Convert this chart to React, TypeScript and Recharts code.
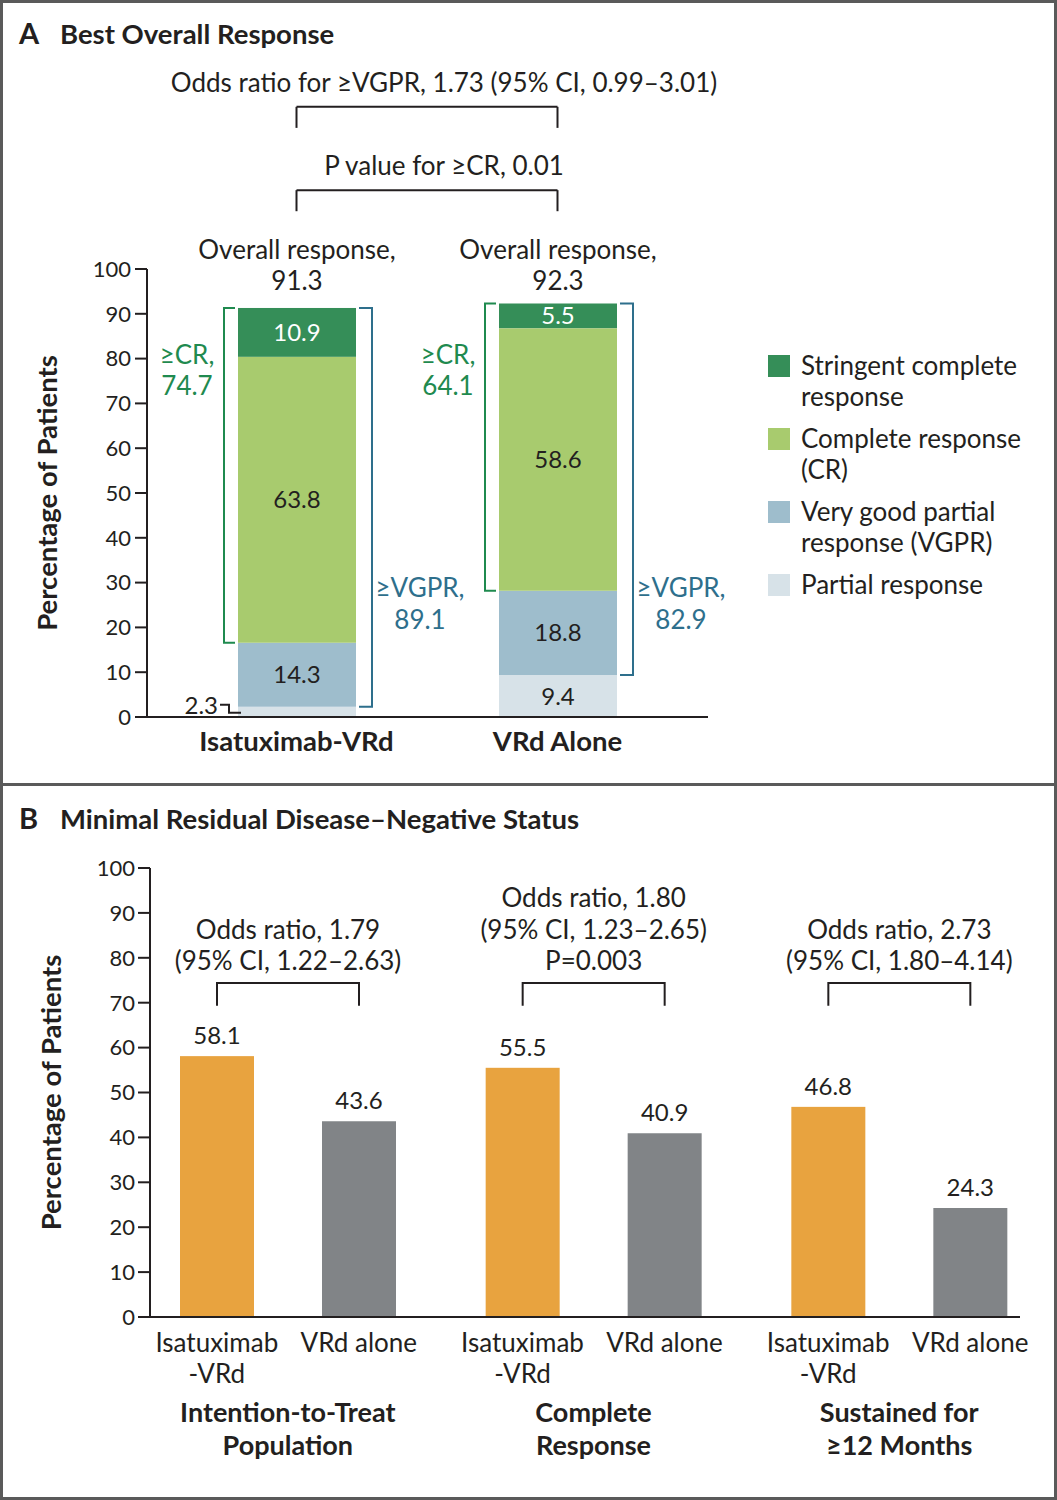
import React from "react";
import { BarChart, Bar, XAxis, YAxis, LabelList, Legend, ReferenceLine } from "recharts";

// panel A: best overall response (percent of patients)
const arms = ["Isatuximab-VRd", "VRd Alone"];
const partialResponse = [2.3, 9.4];
const veryGoodPartialResponse = [14.3, 18.8];
const completeResponse = [63.8, 58.6];
const stringentCompleteResponse = [10.9, 5.5];
const overallResponse = [91.3, 92.3];
const atLeastCr = [74.7, 64.1];
const atLeastVgpr = [89.1, 82.9];
const responseNames = [
  "Partial response",
  "Very good partial\nresponse (VGPR)",
  "Complete response\n(CR)",
  "Stringent complete\nresponse",
];
const legendOrder = ["scr", "cr", "vgpr", "pr"];
const oddsRatioVgpr = "Odds ratio for \u2265VGPR, 1.73 (95% CI, 0.99\u20133.01)";
const pValueCr = "P value for \u2265CR, 0.01";

// panel B: MRD-negative status
const mrdGroups = ["Intention-to-Treat\nPopulation", "Complete\nResponse", "Sustained for\n\u226512 Months"];
const mrdArmLabels = ["Isatuximab\n-VRd", "VRd alone"];
const mrdIsatuximab = [58.1, 55.5, 46.8];
const mrdVrdAlone = [43.6, 40.9, 24.3];
const mrdComparisons = [
  "Odds ratio, 1.79\n(95% CI, 1.22\u20132.63)",
  "Odds ratio, 1.80\n(95% CI, 1.23\u20132.65)\nP=0.003",
  "Odds ratio, 2.73\n(95% CI, 1.80\u20134.14)",
];

const percentTicks = [0, 10, 20, 30, 40, 50, 60, 70, 80, 90, 100];

const FONT = "Lato, 'Open Sans', sans-serif";
const INK = "#231f20";
const GREEN = "#1f8a4f";
const BLUE = "#2e6f8c";
const FRAME = "#5a5a5a";
const SEG_COLORS = ["#d7e2e8", "#9ebdcc", "#a8cb6e", "#358e58"];
const MRD_BAR = 74;
const MRD_GAP = 68;
const TEXT = 26; // running text
const NUM = 24; // value labels

const responseData = arms.map((arm, i) => ({
  arm,
  pr: partialResponse[i],
  vgpr: veryGoodPartialResponse[i],
  cr: completeResponse[i],
  scr: stringentCompleteResponse[i],
  overall: overallResponse[i],
  geCr: atLeastCr[i],
  geVgpr: atLeastVgpr[i],
}));

const mrdData = mrdGroups.map((group, i) => ({
  group,
  isa: mrdIsatuximab[i],
  vrd: mrdVrdAlone[i],
  comparison: mrdComparisons[i],
}));

const txt = { fontFamily: FONT, dominantBaseline: "central" as const };

function AxisTitle(props: any) {
  const { viewBox, shift } = props;
  const cx = viewBox.x - shift;
  const cy = viewBox.y + viewBox.height / 2;
  return (
    <text {...txt} x={cx} y={cy} transform={`rotate(-90 ${cx} ${cy})`} textAnchor="middle"
      fontSize={27.5} fontWeight={700} fill={INK}>
      Percentage of Patients
    </text>
  );
}

function ArmTick(props: any) {
  const { x, y, payload } = props;
  return (
    <text {...txt} x={x} y={y + 23} textAnchor="middle" fontSize={27.5} fontWeight={700} fill={INK}>
      {payload.value}
    </text>
  );
}

function BracketCaption(props: any) {
  const { viewBox, text } = props;
  return (
    <text {...txt} x={viewBox.x + viewBox.width / 2 + 17} y={viewBox.y - 25} textAnchor="middle"
      fontSize={TEXT} fill={INK}>
      {text}
    </text>
  );
}

function PartialLabel(props: any) {
  const { x, y, width, height, value } = props;
  if (height < 20) {
    const cy = y + height / 2;
    return (
      <g>
        <path d={`M${x - 18},${cy - 7} H${x - 9} V${cy + 1} H${x + 3}`} stroke={INK} strokeWidth={2} fill="none" />
        <text {...txt} x={x - 20} y={cy - 7} textAnchor="end" fontSize={NUM} fill={INK}>{value}</text>
      </g>
    );
  }
  return (
    <text {...txt} x={x + width / 2} y={y + height / 2} textAnchor="middle" fontSize={NUM} fill={INK}>{value}</text>
  );
}

function TopSegment(props: any) {
  const { x, y, width, height, fill, payload } = props;
  const ppu = height / payload.scr;
  const zero = y + height + (payload.pr + payload.vgpr + payload.cr) * ppu;
  const at = (v: number) => zero - v * ppu;
  const cx = x + width / 2;
  const l = x - 14;
  const r = x + width + 16;
  return (
    <g>
      <rect x={x} y={y} width={width} height={height} fill={fill} />
      <path d={`M${x - 3},${y} H${l} V${at(payload.pr + payload.vgpr)} H${x - 3}`} stroke={GREEN} strokeWidth={2} fill="none" />
      <path d={`M${x + width + 3},${y} H${r} V${at(payload.pr)} H${x + width + 3}`} stroke={BLUE} strokeWidth={2} fill="none" />
      <text {...txt} x={x - 51} y={at(81)} textAnchor="middle" fontSize={TEXT} fill={GREEN}>{"\u2265CR,"}</text>
      <text {...txt} x={x - 51} y={at(74.1)} textAnchor="middle" fontSize={TEXT} fill={GREEN}>{payload.geCr}</text>
      <text {...txt} x={x + width + 64} y={at(29)} textAnchor="middle" fontSize={TEXT} fill={BLUE}>{"\u2265VGPR,"}</text>
      <text {...txt} x={x + width + 64} y={at(21.9)} textAnchor="middle" fontSize={TEXT} fill={BLUE}>{payload.geVgpr}</text>
      <text {...txt} x={cx} y={at(104.5)} textAnchor="middle" fontSize={TEXT} fill={INK}>Overall response,</text>
      <text {...txt} x={cx} y={at(97.5)} textAnchor="middle" fontSize={TEXT} fill={INK}>{payload.overall}</text>
    </g>
  );
}

function ResponseLegend(props: any) {
  const items = [...(props.payload || [])].sort(
    (a: any, b: any) => legendOrder.indexOf(a.dataKey) - legendOrder.indexOf(b.dataKey)
  );
  return (
    <div style={{ fontFamily: FONT, fontSize: TEXT, color: INK, lineHeight: "31px" }}>
      {items.map((it: any) => (
        <div key={it.dataKey} style={{ display: "flex", marginBottom: 11 }}>
          <div style={{ width: 22, height: 22, background: it.color, marginTop: 5, marginRight: 11, flexShrink: 0 }} />
          <div style={{ whiteSpace: "pre-line" }}>{it.value}</div>
        </div>
      ))}
    </div>
  );
}

function IsaBar(props: any) {
  const { x, y, width, height, fill, payload } = props;
  const ppu = height / payload.isa;
  const zero = y + height;
  const at = (v: number) => zero - v * ppu;
  const left = x + width / 2;
  const right = left + MRD_BAR + MRD_GAP;
  const top = at(74.4);
  const foot = at(69.3);
  const lines = String(payload.comparison).split("\n");
  const mid = (left + right) / 2;
  return (
    <g>
      <rect x={x} y={y} width={width} height={height} fill={fill} />
      <path d={`M${left},${foot} V${top} H${right} V${foot}`} stroke={INK} strokeWidth={2} fill="none" />
      {lines.map((t, k) => (
        <text key={k} {...txt} x={mid} y={at(79.5 + (lines.length - 1 - k) * 7)} textAnchor="middle" fontSize={TEXT} fill={INK}>
          {t}
        </text>
      ))}
    </g>
  );
}

function GroupTick(props: any) {
  const { x, y, payload } = props;
  const off = (MRD_BAR + MRD_GAP) / 2;
  const groupLines = String(payload.value).split("\n");
  return (
    <g>
      {mrdArmLabels[0].split("\n").map((t, k) => (
        <text key={"a" + k} {...txt} x={x - off} y={y + 25 + k * 31} textAnchor="middle" fontSize={TEXT} fill={INK}>{t}</text>
      ))}
      {mrdArmLabels[1].split("\n").map((t, k) => (
        <text key={"b" + k} {...txt} x={x + off} y={y + 25 + k * 31} textAnchor="middle" fontSize={TEXT} fill={INK}>{t}</text>
      ))}
      {groupLines.map((t, k) => (
        <text key={"g" + k} {...txt} x={x} y={y + 94 + k * 33} textAnchor="middle" fontSize={27} fontWeight={700} fill={INK}>{t}</text>
      ))}
    </g>
  );
}

function PanelTitle({ top, letter, title }: { top: number; letter: string; title: string }) {
  return (
    <div style={{ position: "absolute", left: 19, top, fontFamily: FONT, fontWeight: 700, color: INK, lineHeight: "36px", whiteSpace: "nowrap" }}>
      <span style={{ fontSize: 29, display: "inline-block", width: 41 }}>{letter}</span>
      <span style={{ fontSize: 27.5 }}>{title}</span>
    </div>
  );
}

export default function App() {
  const axisStyle = { stroke: INK, strokeWidth: 2 };
  const tickStyle = { fill: INK, fontSize: 22, fontFamily: FONT };
  return (
    <div style={{ position: "absolute", left: 0, top: 0, width: 1057, height: 1500, background: "#fff", overflow: "hidden" }}>
      <div style={{ position: "absolute", left: 0, top: 0, width: 1057, height: 785 }}>
        <BarChart width={1057} height={785} data={responseData} barSize={118}
          margin={{ top: 269, right: 349, bottom: 28, left: 87 }}>
          <XAxis dataKey="arm" height={40} padding={{ left: 19, right: 20 }} interval={0}
            tickLine={false} tickSize={0} tickMargin={0} axisLine={axisStyle} tick={<ArmTick />} />
          <YAxis width={60} domain={[0, 100]} ticks={percentTicks} interval={0} tickSize={12} tickMargin={4}
            axisLine={axisStyle} tickLine={axisStyle} tick={tickStyle} label={<AxisTitle shift={41} />} />
          <Legend layout="horizontal" verticalAlign="middle" align="center" content={<ResponseLegend />}
            wrapperStyle={{ position: "absolute", left: 768, top: 350, width: 285, height: 260 }} />
          <Bar dataKey="pr" name={responseNames[0]} stackId="r" fill={SEG_COLORS[0]} isAnimationActive={false}>
            <LabelList dataKey="pr" content={<PartialLabel />} />
          </Bar>
          <Bar dataKey="vgpr" name={responseNames[1]} stackId="r" fill={SEG_COLORS[1]} isAnimationActive={false}>
            <LabelList dataKey="vgpr" position="center" fill={INK} fontSize={NUM} fontFamily={FONT} />
          </Bar>
          <Bar dataKey="cr" name={responseNames[2]} stackId="r" fill={SEG_COLORS[2]} isAnimationActive={false}>
            <LabelList dataKey="cr" position="center" fill={INK} fontSize={NUM} fontFamily={FONT} />
          </Bar>
          <Bar dataKey="scr" name={responseNames[3]} stackId="r" fill={SEG_COLORS[3]} isAnimationActive={false} shape={<TopSegment />}>
            <LabelList dataKey="scr" position="center" fill="#ffffff" fontSize={NUM} fontFamily={FONT} />
          </Bar>
          <ReferenceLine ifOverflow="visible" segment={[{ x: arms[0], y: 136.2 }, { x: arms[1], y: 136.2 }]}
            stroke={INK} strokeWidth={2} label={<BracketCaption text={oddsRatioVgpr} />} />
          <ReferenceLine ifOverflow="visible" segment={[{ x: arms[0], y: 136.2 }, { x: arms[0], y: 131.5 }]} stroke={INK} strokeWidth={2} />
          <ReferenceLine ifOverflow="visible" segment={[{ x: arms[1], y: 136.2 }, { x: arms[1], y: 131.5 }]} stroke={INK} strokeWidth={2} />
          <ReferenceLine ifOverflow="visible" segment={[{ x: arms[0], y: 117.6 }, { x: arms[1], y: 117.6 }]}
            stroke={INK} strokeWidth={2} label={<BracketCaption text={pValueCr} />} />
          <ReferenceLine ifOverflow="visible" segment={[{ x: arms[0], y: 117.6 }, { x: arms[0], y: 112.9 }]} stroke={INK} strokeWidth={2} />
          <ReferenceLine ifOverflow="visible" segment={[{ x: arms[1], y: 117.6 }, { x: arms[1], y: 112.9 }]} stroke={INK} strokeWidth={2} />
        </BarChart>
      </div>
      <div style={{ position: "absolute", left: 0, top: 785, width: 1057, height: 715 }}>
        <BarChart width={1057} height={715} data={mrdData} barSize={MRD_BAR} barGap={MRD_GAP}
          margin={{ top: 83, right: 37, bottom: 43, left: 90 }}>
          <XAxis dataKey="group" height={140} padding={{ left: -15, right: -32 }} interval={0}
            tickLine={false} tickSize={0} tickMargin={0} axisLine={axisStyle} tick={<GroupTick />} />
          <YAxis width={60} domain={[0, 100]} ticks={percentTicks} interval={0} tickSize={12} tickMargin={3}
            axisLine={axisStyle} tickLine={axisStyle} tick={tickStyle} label={<AxisTitle shift={40} />} />
          <Bar dataKey="isa" fill="#e8a33f" isAnimationActive={false} shape={<IsaBar />}>
            <LabelList dataKey="isa" position="top" offset={12} fill={INK} fontSize={NUM} fontFamily={FONT} />
          </Bar>
          <Bar dataKey="vrd" fill="#818487" isAnimationActive={false}>
            <LabelList dataKey="vrd" position="top" offset={12} fill={INK} fontSize={NUM} fontFamily={FONT} />
          </Bar>
        </BarChart>
      </div>
      <PanelTitle top={15} letter="A" title="Best Overall Response" />
      <PanelTitle top={800} letter="B" title={"Minimal Residual Disease\u2013Negative Status"} />
      <div style={{ position: "absolute", left: 0, top: 783, width: 1057, height: 3, background: FRAME }} />
      <div style={{ position: "absolute", left: 0, top: 0, width: 1057, height: 1500, border: `3px solid ${FRAME}`, boxSizing: "border-box", pointerEvents: "none" }} />
    </div>
  );
}
